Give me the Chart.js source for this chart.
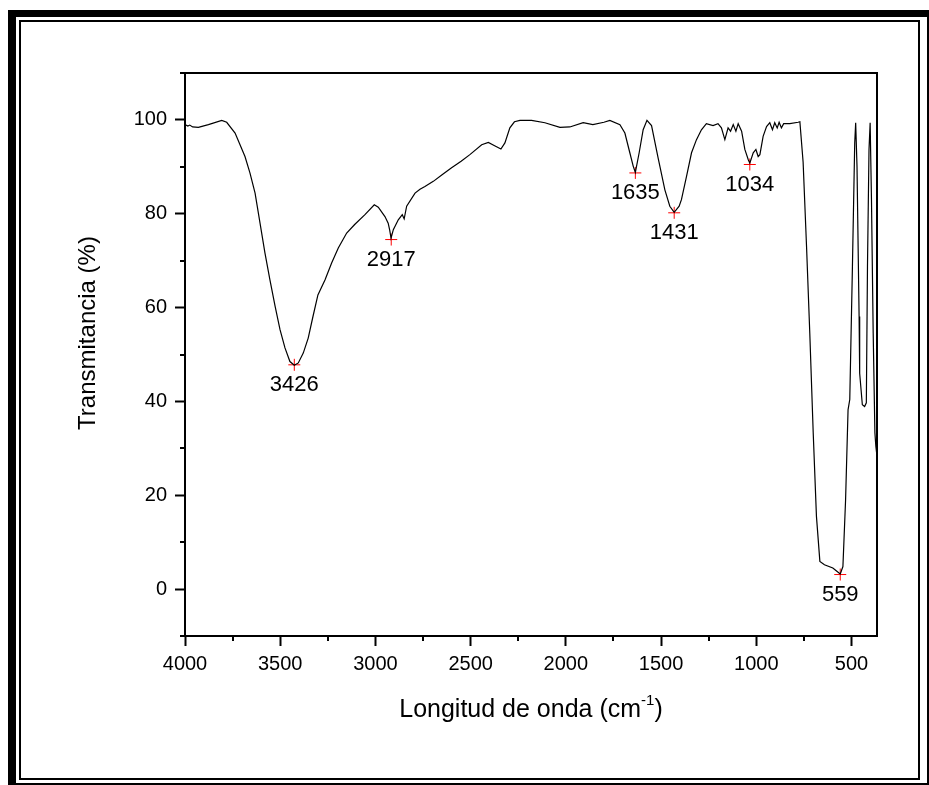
<!DOCTYPE html>
<html>
<head>
<meta charset="utf-8">
<script src="https://cdn.jsdelivr.net/npm/chart.js@4.4.0/dist/chart.umd.min.js"></script>
<style>
body{margin:0;background:#fff;}
#wrap{position:relative;width:929px;height:785px;overflow:hidden;}
#outer{position:absolute;left:8px;top:10px;width:927px;height:781px;box-sizing:border-box;border:8px solid #000;border-top-width:7px;}
#inner{position:absolute;left:19px;top:20px;width:901px;height:760px;box-sizing:border-box;border:2px solid #000;}
canvas{position:absolute;left:0;top:0;}
</style>
</head>
<body>
<div id="wrap">
<canvas id="mycanvas" width="929" height="785"></canvas>
<div id="outer"></div>
<div id="inner"></div>
</div>
<script>
// FTIR spectrum
var waveNumber = [4000,3985,3975,3960,3930,3877,3807,3781,3737,3685,3659,3632,3606,3580,3554,3527,3501,3475,3449,3426,3405,3379,3353,3328,3302,3265,3230,3195,3151,3109,3055,3006,2985,2950,2933,2925,2918,2906,2880,2859,2849,2836,2792,2766,2740,2696,2650,2600,2550,2504,2442,2407,2374,2341,2320,2294,2270,2241,2180,2110,2031,1979,1909,1858,1800,1769,1716,1690,1664,1646,1635,1615,1594,1574,1550,1515,1480,1454,1431,1405,1393,1366,1340,1314,1288,1262,1227,1201,1183,1165,1148,1135,1121,1107,1095,1077,1060,1042,1034,1016,1002,990,981,964,946,929,915,903,890,880,868,856,824,780,771,754,736,719,701,684,666,642,598,559,545,531,518,509,495,483,478,471,460,457,443,431,422,416,408,402,395,386,377,372,368];
var transm = [99.0,98.7,98.9,98.5,98.4,99.0,99.9,99.5,97.2,92.2,88.7,84.4,78.0,71.6,65.9,60.3,55.3,51.4,48.5,47.7,48.2,50.3,53.5,58.1,62.7,65.9,69.5,72.7,75.9,77.7,79.8,81.9,81.4,79.4,78.0,76.5,74.8,76.6,78.7,79.8,78.9,81.6,84.4,85.2,85.8,86.9,88.3,89.8,91.2,92.6,94.7,95.2,94.5,93.8,95.1,98.3,99.6,99.9,99.9,99.4,98.4,98.5,99.4,99.0,99.5,99.9,99.0,97.2,93.0,90.1,88.8,93.0,97.9,99.9,98.8,91.8,85.1,81.6,80.3,81.6,83.0,88.0,93.0,95.8,97.9,99.2,98.8,99.2,98.3,95.8,98.3,97.6,99.0,97.6,99.2,97.6,93.7,91.5,90.8,93.0,93.7,92.2,92.6,96.5,98.6,99.4,97.9,99.4,98.3,99.5,98.3,99.2,99.2,99.5,99.6,91.0,73.0,54.6,33.3,15.5,5.9,5.2,4.5,3.2,4.8,19.0,38.2,40.4,68.8,95.1,99.4,90.1,58.1,46.0,39.3,38.9,39.7,68.8,93.7,99.4,83.0,54.6,33.3,30.4,29.0];

var peakWave = [3426,2917,1635,1431,1034,559];
var peakT = [47.8,74.5,88.7,80.2,90.5,3.1];

var xMajor = [4000,3500,3000,2500,2000,1500,1000,500];
var xMinor = [3750,3250,2750,2250,1750,1250,750];
var yMajor = [0,20,40,60,80,100];
var yMinor = [-10,10,30,50,70,90,110];

var tickFont = {family:'"Liberation Sans", Arial, sans-serif', size:20};

var extras = {
	id:'extras',
	afterDraw:function(chart){
		var ctx = chart.ctx;
		var a = chart.chartArea;
		var xs = chart.scales.x, ys = chart.scales.y;
		ctx.save();
		ctx.strokeStyle = '#000';
		ctx.lineWidth = 2;
		ctx.strokeRect(a.left, a.top, a.right-a.left, a.bottom-a.top);
		// minor ticks
		ctx.beginPath();
		for(var i in xMinor){
			var px = Math.round(xs.getPixelForValue(xMinor[i]));
			ctx.moveTo(px, a.bottom); ctx.lineTo(px, a.bottom+5);
		}
		for(var j in yMinor){
			var py = Math.round(ys.getPixelForValue(yMinor[j]));
			ctx.moveTo(a.left, py); ctx.lineTo(a.left-5, py);
		}
		ctx.stroke();
		// peak labels
		ctx.fillStyle = '#000';
		ctx.font = '22px "Liberation Sans", Arial, sans-serif';
		ctx.textAlign = 'center';
		ctx.textBaseline = 'middle';
		for(var k in peakWave){
			ctx.fillText(String(peakWave[k]), xs.getPixelForValue(peakWave[k]), ys.getPixelForValue(peakT[k])+20);
		}
		// y title
		ctx.font = '24px "Liberation Sans", Arial, sans-serif';
		ctx.save();
		ctx.translate(88, 333);
		ctx.rotate(-Math.PI/2);
		ctx.fillText('Transmitancia (%)', 0, 0);
		ctx.restore();
		// x title with superscript
		var main = 'Longitud de onda (cm', sup = '-1', close = ')';
		ctx.textAlign = 'left';
		ctx.textBaseline = 'alphabetic';
		ctx.font = '25px "Liberation Sans", Arial, sans-serif';
		var w1 = ctx.measureText(main).width;
		var w3 = ctx.measureText(close).width;
		ctx.font = '15px "Liberation Sans", Arial, sans-serif';
		var w2 = ctx.measureText(sup).width;
		var x0 = (a.left+a.right)/2 - (w1+w2+w3)/2;
		ctx.font = '25px "Liberation Sans", Arial, sans-serif';
		ctx.fillText(main, x0, 717);
		ctx.fillText(close, x0+w1+w2, 717);
		ctx.font = '15px "Liberation Sans", Arial, sans-serif';
		ctx.fillText(sup, x0+w1, 705);
		ctx.restore();
	}
};

var ctx = document.getElementById('mycanvas');
var chart = new Chart(ctx, {
	type:'line',
	data:{
		datasets:[
			{
				label:'Espectro',
				data:waveNumber.map(function(w,i){ return {x:w, y:transm[i]}; }),
				borderColor:'#000',
				borderWidth:1.2,
				pointRadius:0,
				tension:0,
				fill:false
			},
			{
				label:'Picos',
				data:peakWave.map(function(w,i){ return {x:w, y:peakT[i]}; }),
				showLine:false,
				pointStyle:'cross',
				pointRadius:6,
				pointBorderWidth:1,
				pointBorderColor:'#ff0000',
				borderColor:'#ff0000'
			}
		]
	},
	options:{
		responsive:false,
		animation:false,
		devicePixelRatio:1,
		layout:{padding:{top:73,right:52,left:0,bottom:0}},
		plugins:{legend:{display:false}, tooltip:{enabled:false}},
		scales:{
			x:{
				type:'linear',
				reverse:true,
				min:366,
				max:4000,
				afterBuildTicks:function(s){ s.ticks = xMajor.map(function(v){ return {value:v}; }); },
				afterFit:function(s){ s.height = 149; },
				ticks:{font:tickFont, color:'#000', padding:6, maxRotation:0, autoSkip:false,
					callback:function(v){ return String(v); }},
				grid:{drawOnChartArea:false, drawTicks:true, tickLength:10, tickWidth:2, tickColor:'#000'},
				border:{display:true, color:'#000', width:2}
			},
			y:{
				min:-10,
				max:110,
				afterBuildTicks:function(s){ s.ticks = yMajor.map(function(v){ return {value:v}; }); },
				afterFit:function(s){ s.width = 185; },
				ticks:{font:tickFont, color:'#000', padding:8, autoSkip:false,
					callback:function(v){ return String(v); }},
				grid:{drawOnChartArea:false, drawTicks:true, tickLength:10, tickWidth:2, tickColor:'#000'},
				border:{display:true, color:'#000', width:2}
			}
		}
	},
	plugins:[extras]
});
</script>
</body>
</html>
